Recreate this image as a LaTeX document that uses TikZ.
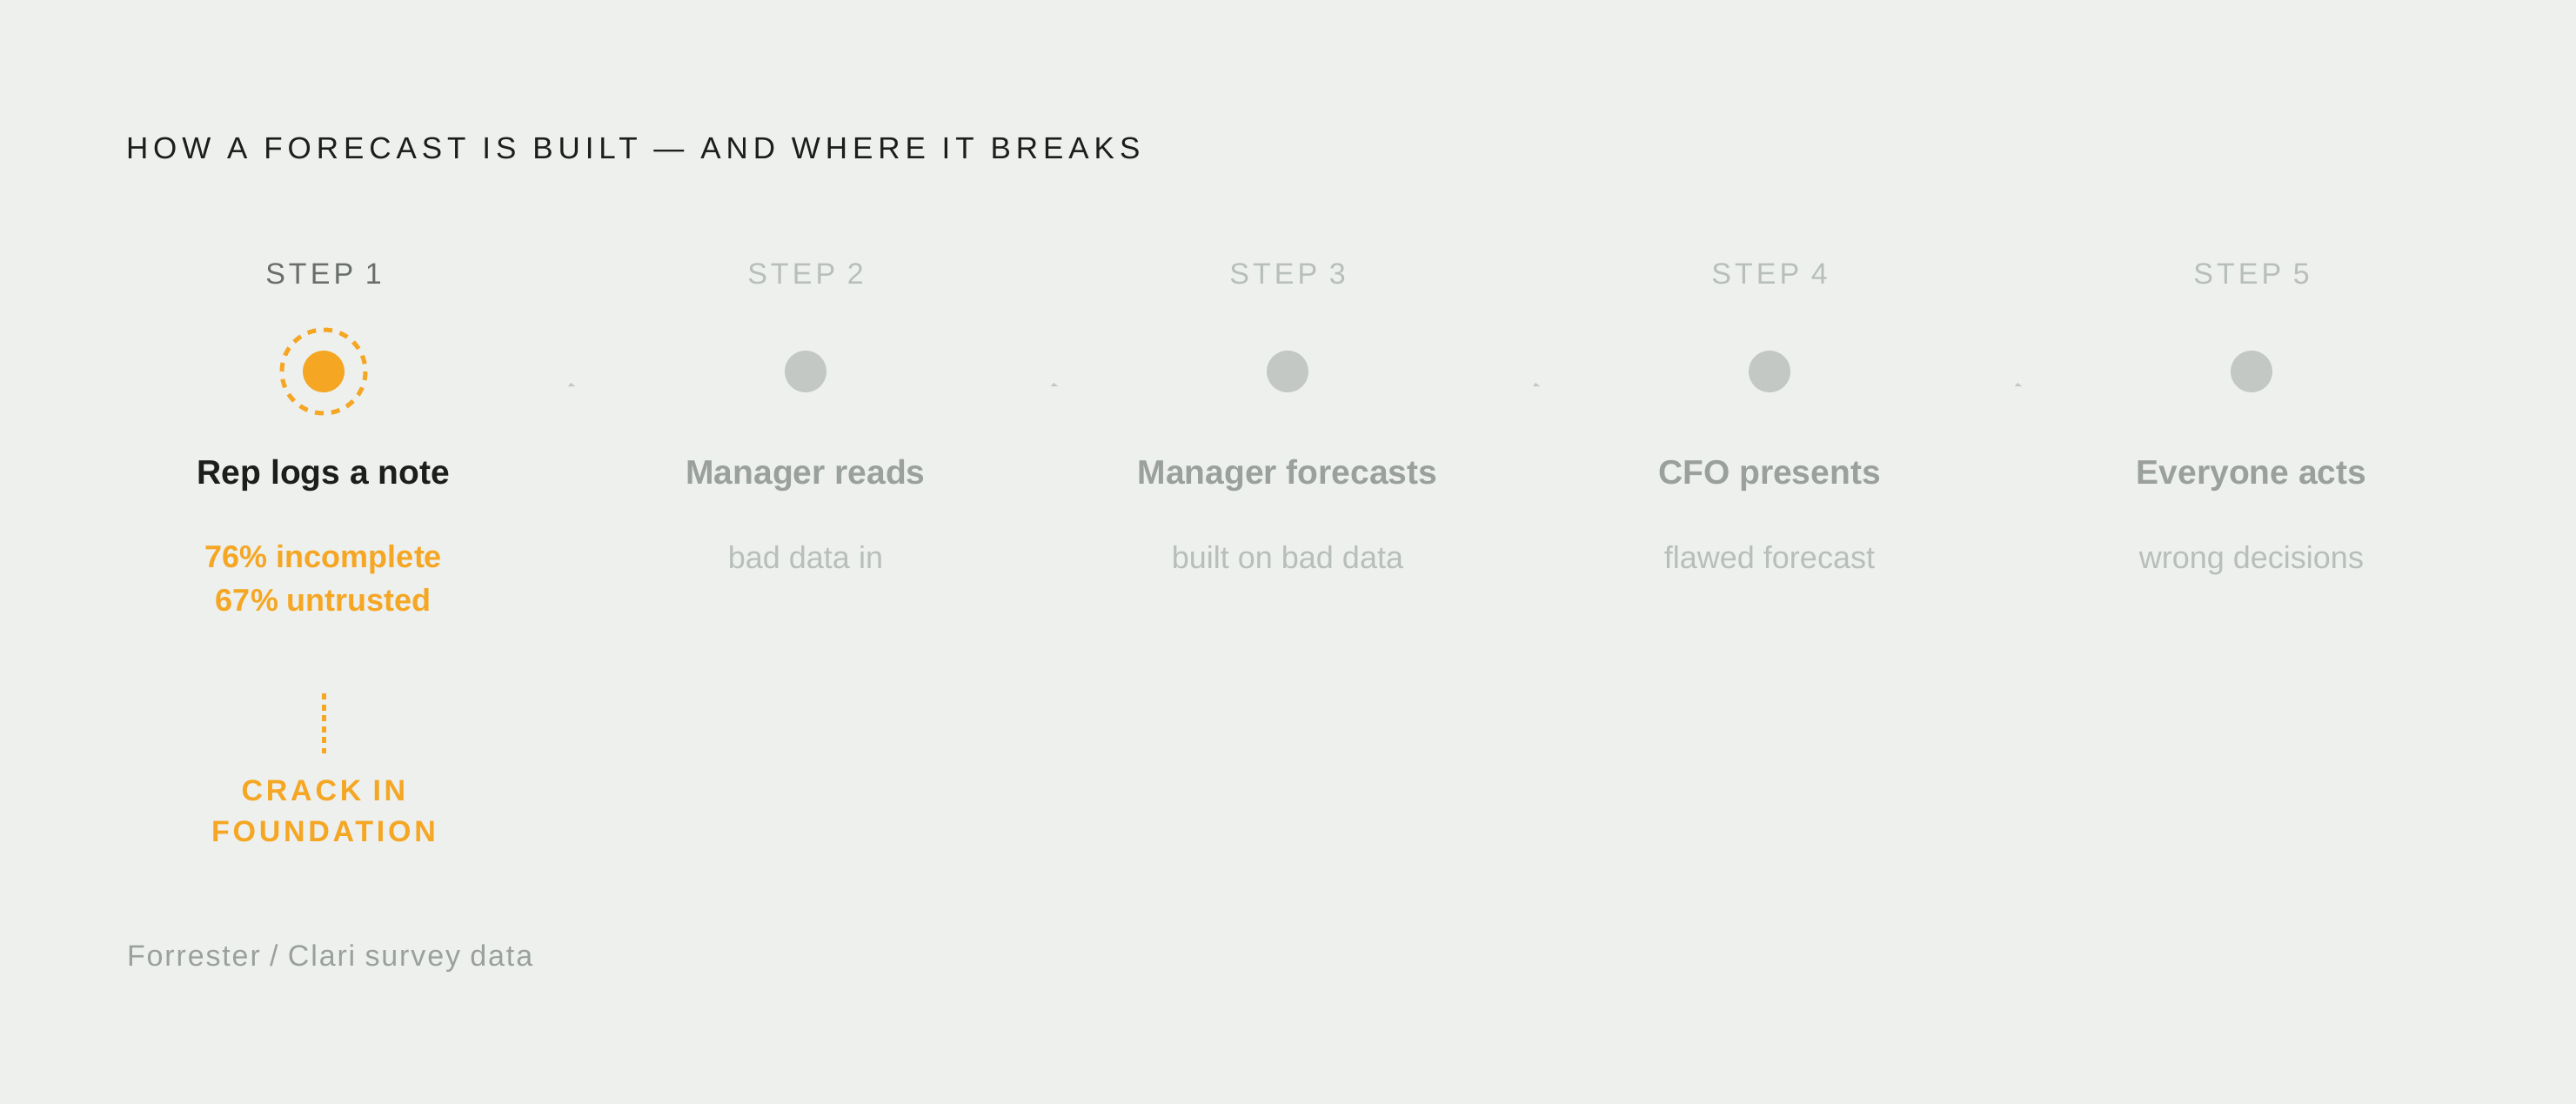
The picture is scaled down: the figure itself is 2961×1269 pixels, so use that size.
\documentclass[tikz,border=0pt]{standalone}
\usepackage{fontspec}
\setmainfont{Liberation Sans}
\newfontfamily\titlefont{Liberation Sans}[LetterSpace=17,WordSpace=1.2]
\definecolor{bgc}{HTML}{EEF0ED}
\definecolor{ink}{HTML}{1B1E1B}
\definecolor{orng}{HTML}{F5A623}
\definecolor{dotg}{HTML}{C3C8C4}
\definecolor{midg}{HTML}{9AA09B}
\definecolor{lightg}{HTML}{B8BEB9}
\definecolor{stepdark}{HTML}{6A6E6A}
\begin{document}
\begin{tikzpicture}[x=1pt,y=-1pt,
  every node/.style={inner sep=0pt, outer sep=0pt},
  titletxt/.style={anchor=base west, text=ink, font=\titlefont\fontsize{35}{42}\selectfont},
  steplbl/.style={anchor=base, text=lightg, font=\fontsize{34}{40}\selectfont\addfontfeatures{LetterSpace=12}},
  steplblon/.style={steplbl, text=stepdark},
  dotoff/.style={circle, fill=dotg, minimum size=48pt},
  doton/.style={circle, fill=orng, minimum size=48pt},
  ringon/.style={draw=orng, line width=5pt, dash pattern=on 10pt off 8.85pt},
  nametxt/.style={anchor=base, text=midg, font=\fontsize{39}{46}\selectfont\bfseries},
  nameon/.style={nametxt, text=ink},
  subtxt/.style={anchor=base, text=lightg, font=\fontsize{36}{42}\selectfont},
  stattxt/.style={anchor=base, text=orng, font=\fontsize{36}{42}\selectfont\bfseries},
  cracktxt/.style={anchor=base, text=orng, font=\fontsize{34}{40}\selectfont\bfseries\addfontfeatures{LetterSpace=11}},
  crackline/.style={draw=orng, line width=5pt, dash pattern=on 7pt off 5.5pt},
  srctxt/.style={anchor=base west, text=midg, font=\fontsize{34}{40}\selectfont\addfontfeatures{LetterSpace=5.5}},
  tipmark/.style={fill=dotg}
]
\useasboundingbox (0,0) rectangle (2961,1269);
\fill[bgc] (0,0) rectangle (2961,1269);

\node[titletxt] (title) at (145,182) {HOW A FORECAST IS BUILT — AND WHERE IT BREAKS};

% Step 1 (highlighted)
\node[steplblon] (step1) at (372,326) {STEP 1};
\node[doton] (dot1) at (372,427) {};
\draw[ringon] (dot1.center) circle[radius=48];
\node[nameon] (name1) at (372,556) {Rep logs a note};
\node[stattxt] (stat1a) at (372,652) {76\% incomplete};
\node[stattxt] (stat1b) at (372,702) {67\% untrusted};
\coordinate (ck1) at (372,797);
\coordinate (ck2) at (372,866);
\draw[crackline] (ck1) -- (ck2);
\node[cracktxt] (crack1) at (372,920) {CRACK IN};
\node[cracktxt] (crack2) at (372,967) {FOUNDATION};

% Steps 2-5
\foreach \i/\x/\t/\s in {2/926/Manager reads/bad data in,
                         3/1480/Manager forecasts/built on bad data,
                         4/2034/CFO presents/flawed forecast,
                         5/2588/Everyone acts/wrong decisions}{
  \node[steplbl] (step\i) at (\x,326) {STEP \i};
  \node[dotoff] (dot\i) at (\x,427) {};
  \node[nametxt] (name\i) at (\x,556) {\t};
  \node[subtxt] (sub\i) at (\x,653) {\s};
}

% tiny tip marks between steps
\foreach \j/\x in {1/657,2/1212,3/1766,4/2320}{
  \coordinate (tip\j) at (\x,442);
  \fill[tipmark] (tip\j) +(-4,2) -- +(-1,-2) -- +(4,2) -- cycle;
}

\node[srctxt] (source) at (146,1110) {Forrester / Clari survey data};
\end{tikzpicture}
\end{document}
